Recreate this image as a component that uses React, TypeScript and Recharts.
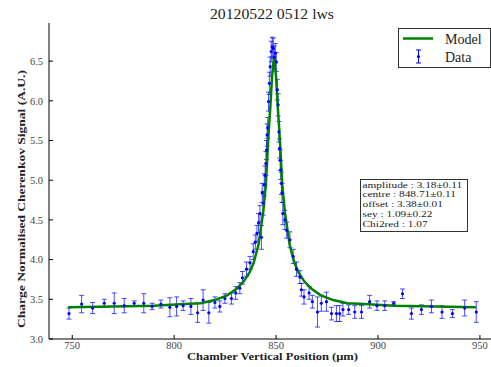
import {
  ComposedChart,
  Line,
  Scatter,
  ErrorBar,
  XAxis,
  YAxis
}
from "recharts";

// measured points (position in um, signal, error)
const posX = [
  748.4, 754.6, 760.0, 765.7, 770.6, 775.5, 780.4, 785.1, 789.2, 793.5,
  797.9, 801.2, 804.4, 808.2, 811.5, 814.2, 817.0, 820.0, 822.4, 824.9,
  828.1, 830.2, 832.2, 833.5, 835.5, 837.2, 838.8, 839.8, 840.6, 841.4,
  842.1, 842.8, 843.2, 843.7, 844.2, 844.6, 845.0, 845.3, 845.6, 845.9,
  846.3, 846.7, 847.1, 847.6, 848.1, 848.6, 849.1, 849.6, 850.1, 850.6,
  851.0, 851.4, 851.7, 852.0, 852.3, 852.6, 852.9, 853.3, 854.3, 855.2,
  856.8, 858.4, 860.0, 861.7, 862.4, 863.7, 866.2, 867.8, 870.3, 872.2,
  874.7, 877.2, 879.6, 881.2, 882.8, 885.6, 888.6, 891.9, 895.9, 899.5,
  903.3, 907.7, 912.0, 916.4, 921.3, 926.2, 931.4, 936.5, 942.5, 948.2
];

const signal = [
  3.32, 3.44, 3.39, 3.45, 3.45, 3.42, 3.45, 3.45, 3.41, 3.44,
  3.40, 3.41, 3.42, 3.41, 3.33, 3.49, 3.33, 3.46, 3.41, 3.51,
  3.51, 3.58, 3.64, 3.77, 3.88, 3.96, 4.10, 4.22, 4.33, 4.46,
  4.58, 4.28, 4.84, 4.71, 4.94, 5.06, 5.21, 5.38, 5.57, 5.66,
  5.99, 6.22, 6.43, 6.62, 6.68, 6.66, 6.55, 6.60, 6.49, 6.14,
  5.95, 5.61, 5.40, 5.25, 5.13, 4.96, 4.84, 4.58, 4.50, 4.37,
  4.25, 4.04, 3.88, 3.78, 3.62, 3.53, 3.58, 3.47, 3.34, 3.45,
  3.47, 3.32, 3.32, 3.32, 3.37, 3.37, 3.34, 3.34, 3.47, 3.42,
  3.42, 3.45, 3.57, 3.32, 3.37, 3.41, 3.34, 3.32, 3.39, 3.34
];

const sigErr = [
  0.07, 0.11, 0.07, 0.05, 0.13, 0.09, 0.03, 0.12, 0.04, 0.05,
  0.12, 0.12, 0.06, 0.10, 0.12, 0.13, 0.13, 0.07, 0.07, 0.06,
  0.07, 0.08, 0.07, 0.08, 0.09, 0.08, 0.10, 0.09, 0.10, 0.12,
  0.10, 0.15, 0.12, 0.15, 0.14, 0.12, 0.15, 0.12, 0.14, 0.13,
  0.12, 0.14, 0.12, 0.13, 0.12, 0.13, 0.14, 0.12, 0.12, 0.13,
  0.14, 0.13, 0.12, 0.13, 0.12, 0.14, 0.12, 0.14, 0.12, 0.10,
  0.10, 0.09, 0.09, 0.08, 0.08, 0.09, 0.08, 0.08, 0.19, 0.10,
  0.12, 0.08, 0.10, 0.10, 0.08, 0.06, 0.08, 0.08, 0.08, 0.06,
  0.06, 0.02, 0.06, 0.07, 0.06, 0.08, 0.08, 0.05, 0.10, 0.13
];

// fitted model curve
const modelX = [
  748, 770, 790, 805, 813, 820, 826, 830.5, 834, 837,
  839, 841.3, 843.7, 845, 845.9, 846.6, 847.25, 848, 849, 850,
  850.75, 851.4, 852.1, 853, 854.3, 856.7, 859, 861, 864, 867.5,
  872, 878, 885, 893, 908, 928, 948
];

const modelY = [
  3.40, 3.41, 3.42, 3.44, 3.45, 3.49, 3.55, 3.63, 3.72, 3.84,
  3.96, 4.18, 4.60, 4.95, 5.40, 5.70, 5.95, 6.30, 6.56, 6.30,
  5.95, 5.70, 5.40, 4.95, 4.60, 4.18, 3.96, 3.84, 3.72, 3.63,
  3.55, 3.49, 3.45, 3.44, 3.42, 3.41, 3.40
];

const xTicks = [750, 800, 850, 900, 950];
const yTicks = [3.0, 3.5, 4.0, 4.5, 5.0, 5.5, 6.0, 6.5];

const fitText = [
  "amplitude : 3.18\u00b10.11",
  "centre : 848.71\u00b10.11",
  "offset : 3.38\u00b10.01",
  "sey : 1.09\u00b10.22",
  "Chi2red : 1.07"
];

const serif = "'Liberation Serif', 'DejaVu Serif', serif";
const xDomain = [738.6, 956.9];
const yDomain = [3.0, 6.98];

const points = posX.map((x, i) => ({
  x,
  y: signal[i],
  e: sigErr[i]
}));

const model = modelX.map((x, i) => ({
  x,
  y: modelY[i]
}));

function Dot(props: any) {
  return (
    <circle cx={props.cx} cy={props.cy} r={1.6} fill="#0000ff" />
  );
}

export default function App() {

  return (

    <div
      style={{
        position: "absolute",
        left: 0,
        top: 0,
        width: 491,
        height: 367,
        overflow: "hidden",
        background: "#fff"
      }}
    >

      <ComposedChart
        width={494}
        height={367}
        margin={{ top: 23, right: 0, bottom: 0, left: 0 }}
      >

        <XAxis
          type="number"
          dataKey="x"
          domain={xDomain}
          ticks={xTicks}
          allowDataOverflow
          height={28}
          tickSize={-4}
          tickMargin={7}
          axisLine={{ stroke: "#000" }}
          tickLine={{ stroke: "#000" }}
          tick={{ fontSize: 10.5, fill: "#444", fontFamily: serif }}
        />

        <XAxis
          xAxisId="top"
          orientation="top"
          type="number"
          dataKey="x"
          domain={xDomain}
          ticks={xTicks}
          allowDataOverflow
          height={0}
          tickSize={-4}
          tick={false}
          axisLine={{ stroke: "#000" }}
          tickLine={{ stroke: "#000" }}
        />

        <YAxis
          type="number"
          domain={yDomain}
          ticks={yTicks}
          allowDataOverflow
          width={49}
          tickSize={-4}
          tickMargin={10}
          tickFormatter={(v: number) => v.toFixed(1)}
          axisLine={{ stroke: "#000" }}
          tickLine={{ stroke: "#000" }}
          tick={{ fontSize: 10.5, fill: "#444", fontFamily: serif }}
        />

        <Scatter
          data={points}
          dataKey="y"
          fill="#0000ff"
          shape={Dot}
          isAnimationActive={false}
        >
          <ErrorBar
            dataKey="e"
            direction="y"
            width={2.5}
            stroke="#0000ff"
            strokeWidth={1}
            strokeOpacity={0.7}
          />
        </Scatter>

        <Line
          data={model}
          dataKey="y"
          type="linear"
          stroke="#008000"
          strokeWidth={2.5}
          dot={false}
          isAnimationActive={false}
        />

      </ComposedChart>

      <svg
        width={491}
        height={367}
        style={{ position: "absolute", left: 0, top: 0, pointerEvents: "none" }}
        fontFamily={serif}
      >

        <text
          x={272}
          y={18.5}
          textAnchor="middle"
          fontSize={14.5}
          fill="#222"
          textLength={124}
          lengthAdjust="spacingAndGlyphs"
        >
          20120522 0512 lws
        </text>

        <text
          x={272.5}
          y={360}
          textAnchor="middle"
          fontSize={11}
          fontWeight="bold"
          fill="#222"
          textLength={171}
          lengthAdjust="spacingAndGlyphs"
        >
          Chamber Vertical Position (μm)
        </text>

        <text
          transform="translate(25,199) rotate(-90)"
          textAnchor="middle"
          fontSize={11}
          fontWeight="bold"
          fill="#222"
          textLength={258}
          lengthAdjust="spacingAndGlyphs"
        >
          Charge Normalised Cherenkov Signal (A.U.)
        </text>

        {/* legend */}
        <rect x={398.5} y={28.5} width={92} height={39} fill="#fff" stroke="#333" />
        <line x1={403} x2={433} y1={38.5} y2={38.5} stroke="#008000" strokeWidth={2.5} />
        <text x={445} y={43.5} fontSize={14} fill="#222">Model</text>
        <line x1={418.5} x2={418.5} y1={50} y2={63} stroke="#0000ff" strokeWidth={1} />
        <line x1={416} x2={421} y1={50} y2={50} stroke="#0000ff" strokeWidth={1} />
        <line x1={416} x2={421} y1={63} y2={63} stroke="#0000ff" strokeWidth={1} />
        <circle cx={418.5} cy={56.5} r={1.6} fill="#0000ff" />
        <text x={445} y={62} fontSize={14} fill="#222">Data</text>

        {/* fit results */}
        <rect x={360.5} y={179.5} width={107} height={52} fill="#fff" stroke="#333" />
        <g transform="translate(362.5,0) scale(1.32,1)">
          {fitText.map((t, i) => (
            <text key={t} x={0} y={187.6 + i * 9.8} fontSize={8.6} fill="#222">
              {t}
            </text>
          ))}
        </g>

      </svg>

    </div>

  );

}
